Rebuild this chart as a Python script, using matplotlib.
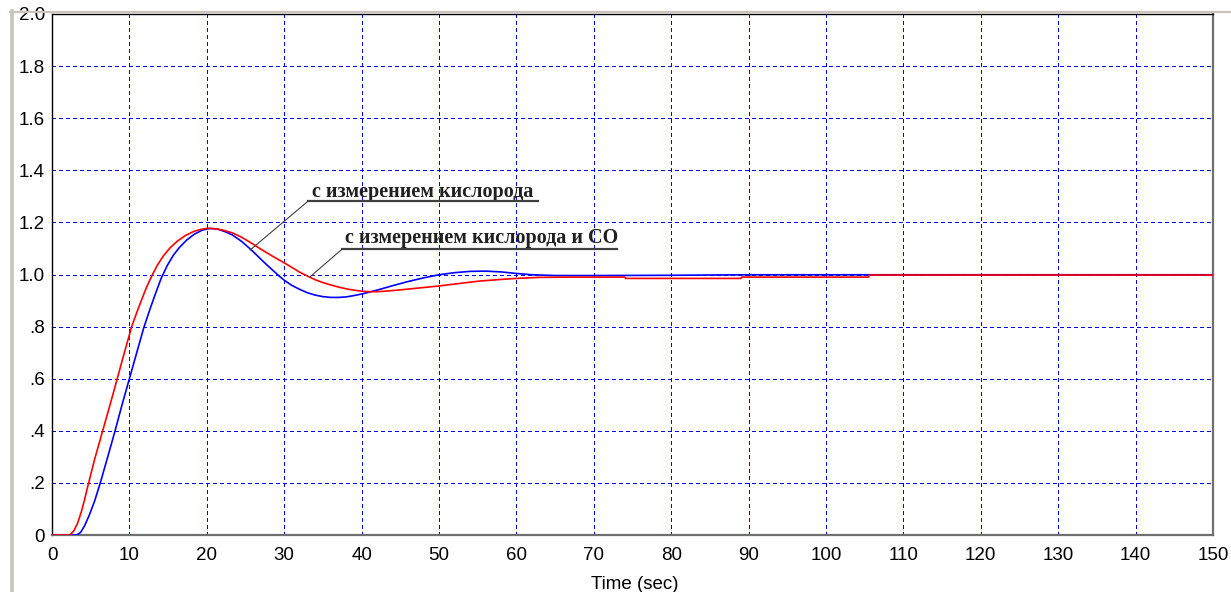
import matplotlib
matplotlib.use("Agg")
import matplotlib.pyplot as plt
from matplotlib.lines import Line2D

# ---- data ----
t_red = [0, 2.3, 2.8, 3.3, 3.8, 4.2, 4.65, 5.5, 6.5, 7.5, 8.4, 9.3, 10.3, 10.9,
         11.5, 12.2, 12.9, 13.6, 14.4, 15.3, 16.2, 17.2, 18.3, 19.2, 20.0, 21.0,
         22.0, 23.3, 24.5, 25.8, 27.0, 28.5, 30.0, 31.0, 32.0, 33.0, 34.0, 35.0,
         36.0, 37.0, 38.0, 39.0, 40.0, 41.0, 42.0, 43.5, 45.0, 47.0, 50.0, 53.0,
         55.3, 58.0, 60.0, 63.0, 67.0, 74.0, 74.1, 89.0, 89.1, 105.5, 105.6, 150.0]
y_red = [0, 0, 0.015, 0.045, 0.09, 0.135, 0.19, 0.29, 0.395, 0.50, 0.597, 0.695, 0.80, 0.85,
         0.897, 0.95, 0.995, 1.035, 1.072, 1.104, 1.128, 1.149, 1.165, 1.173, 1.177, 1.176,
         1.171, 1.160, 1.143, 1.120, 1.097, 1.070, 1.045, 1.027, 1.009, 0.994, 0.980, 0.969,
         0.960, 0.952, 0.945, 0.940, 0.936, 0.934, 0.934, 0.937, 0.941, 0.947, 0.956, 0.967,
         0.975, 0.981, 0.985, 0.989, 0.990, 0.990, 0.985, 0.985, 0.990, 0.990, 0.998, 0.998]

t_blue = [0, 3.2, 3.7, 4.2, 4.8, 5.5, 6.24, 7.2, 8.15, 9.05, 10.0, 10.9, 11.85, 12.6,
          13.35, 14.1, 14.9, 15.7, 16.5, 17.4, 18.4, 19.4, 20.4, 21.4, 22.4, 23.3,
          24.5, 25.8, 27.5, 29.2, 30.0, 31.0, 32.0, 33.0, 34.0, 35.0, 36.0, 37.0,
          38.0, 39.0, 40.0, 42.0, 44.0, 46.0, 48.0, 50.0, 52.0, 54.0, 56.0, 58.0,
          60.0, 62.0, 65.0, 70.0, 80.0, 90.0, 150.0]
y_blue = [0, 0, 0.01, 0.035, 0.075, 0.13, 0.20, 0.30, 0.40, 0.50, 0.60, 0.695, 0.795, 0.862,
          0.925, 0.985, 1.035, 1.075, 1.105, 1.132, 1.155, 1.170, 1.177, 1.174, 1.164, 1.152,
          1.127, 1.093, 1.044, 0.998, 0.978, 0.958, 0.943, 0.930, 0.921, 0.915, 0.912, 0.912,
          0.914, 0.919, 0.925, 0.940, 0.957, 0.973, 0.987, 0.999, 1.007, 1.012, 1.013, 1.010,
          1.004, 0.999, 0.996, 0.996, 0.997, 0.999, 0.999]

x_ticks = list(range(0, 151, 10))
y_ticks = [0, 0.2, 0.4, 0.6, 0.8, 1.0, 1.2, 1.4, 1.6, 1.8, 2.0]
y_tick_labels = ["0", ".2", ".4", ".6", ".8", "1.0", "1.2", "1.4", "1.6", "1.8", "2.0"]
x_label = "Time (sec)"

label_1 = "с измерением кислорода"
label_2 = "с измерением кислорода и СО"
# annotation geometry (data coords): text anchor, underline span, leader target
ann_1 = dict(text_xy=(33.6, 1.317), line_x=(33.1, 62.8), line_y=1.282, target=(25.6, 1.094))
ann_2 = dict(text_xy=(37.9, 1.140), line_x=(37.5, 73.0), line_y=1.098, target=(33.3, 0.990))

# ---- figure ----
plt.rcParams['lines.scale_dashes'] = False
W, H = 1231, 592
fig = plt.figure(figsize=(W / 100, H / 100), dpi=100)
fig.patch.set_facecolor("white")

# window frame (gray strips on left/top)
frame_col = "#c8c4bc"
fig.add_artist(Line2D([11.5 / W, 11.5 / W], [0, 1 - 11 / H], transform=fig.transFigure,
                      color=frame_col, lw=2.6))
fig.add_artist(Line2D([10 / W, 1], [1 - 12 / H, 1 - 12 / H], transform=fig.transFigure,
                      color=frame_col, lw=1.6))

left, right, bottom, top = 52, 1213, 535, 14
ax = fig.add_axes([left / W, 1 - bottom / H, (right - left) / W, (bottom - top) / H])
ax.set_xlim(0, 150)
ax.set_ylim(0, 2.0)

ax.set_xticks(x_ticks)
ax.set_yticks(y_ticks)
ax.set_yticklabels(y_tick_labels)
ax.tick_params(length=0, labelsize=13.5, labelcolor="black")
ax.tick_params(axis="x", pad=9)
ax.tick_params(axis="y", pad=5)
for lab in ax.get_xticklabels() + ax.get_yticklabels():
    lab.set_fontfamily("Liberation Sans")

ax.grid(True, color="#0000ff", lw=0.75, linestyle=(0, (2.88, 2.16)), antialiased=False)
ax.set_axisbelow(True)

for s in ["left", "top"]:
    ax.spines[s].set_color("black")
    ax.spines[s].set_linewidth(1.0)
for s in ["right", "bottom"]:
    ax.spines[s].set_color("#707070")
    ax.spines[s].set_linewidth(1.6)

ax.plot(t_blue, y_blue, color="#0000ff", lw=1.2, zorder=3)
ax.plot(t_red, y_red, color="#ff0000", lw=1.2, zorder=4)

ax.set_xlabel(x_label, fontsize=13.5, fontfamily="Liberation Sans")
ax.xaxis.set_label_coords(0.502, -0.078)

for lab, a in [(label_1, ann_1), (label_2, ann_2)]:
    ax.text(a["text_xy"][0], a["text_xy"][1], lab, fontsize=14.5, fontweight="bold",
            fontfamily="Liberation Serif", color="#202020", va="center", ha="left", zorder=6)
    ax.plot(list(a["line_x"]), [a["line_y"], a["line_y"]], color="#404040", lw=1.6, zorder=6)
    ax.plot([a["line_x"][0], a["target"][0]], [a["line_y"], a["target"][1]],
            color="#404040", lw=0.8, zorder=6)

fig.savefig("out.png", dpi=100)
